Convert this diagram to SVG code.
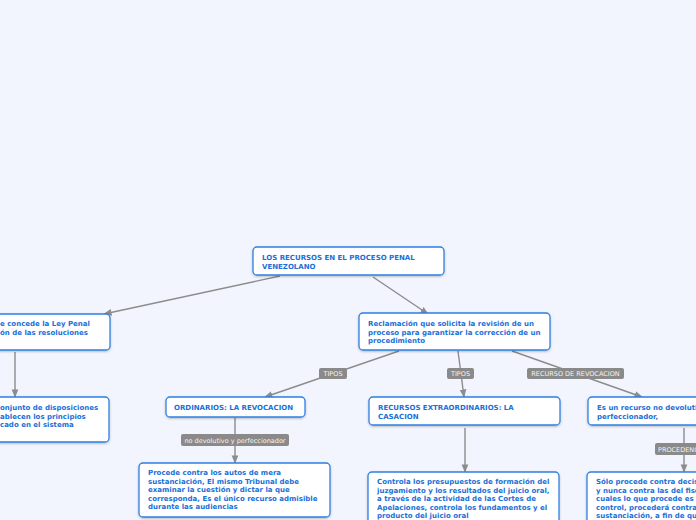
<svg xmlns="http://www.w3.org/2000/svg" width="696" height="520" viewBox="0 0 696 520">
<defs>
<marker id="ah" viewBox="0 0 10 10" refX="9" refY="5" markerWidth="6" markerHeight="6" orient="auto"><path d="M0,1 L10,5 L0,9 z" fill="#8c8c8c"/></marker>
<filter id="sh" x="-10%" y="-20%" width="120%" height="150%"><feDropShadow dx="0" dy="1" stdDeviation="1" flood-color="#000" flood-opacity="0.25"/></filter>
</defs>
<style>
.n{fill:#fff;stroke:#2f80e4;stroke-width:1.3;filter:url(#sh)}
.t{font-family:"DejaVu Sans",Verdana,sans-serif;font-weight:bold;font-size:7px;fill:#1a6fd8}
.c{fill:none;stroke:#8c8c8c;stroke-width:1.4;marker-end:url(#ah)}
.lb{fill:#8a8a8a}
.lt{font-family:"DejaVu Sans",Verdana,sans-serif;font-size:6.5px;fill:#f4f4f4;text-anchor:middle}
</style>
<rect width="696" height="520" fill="#f2f5fd"/>
<g id="connectors">
<path class="c" d="M280,276 L104,314"/>
<path class="c" d="M373,277 L428,314"/>
<path class="c" d="M15,352 L15,397"/>
<path class="c" d="M399,351 L265,397"/>
<path class="c" d="M458,351 L464,397"/>
<path class="c" d="M512,351 L642,397"/>
<path class="c" d="M235,418 L235,463"/>
<path class="c" d="M465,428 L465,472"/>
<path class="c" d="M684,428 L684,472"/>
<rect class="lb" x="319" y="368" width="28" height="11" rx="2"/><text class="lt" x="333" y="376">TIPOS</text>
<rect class="lb" x="447" y="368" width="27" height="11" rx="2"/><text class="lt" x="460.5" y="376">TIPOS</text>
<rect class="lb" x="527" y="368" width="97" height="11" rx="2"/><text class="lt" x="575.5" y="376">RECURSO DE REVOCACION</text>
<rect class="lb" x="181" y="434" width="108" height="12" rx="2"/><text class="lt" x="235" y="442.5">no devolutivo y perfeccionador</text>
<rect class="lb" x="655" y="443" width="50" height="12" rx="2"/><text class="lt" x="658" y="451.5" style="text-anchor:start">PROCEDENC</text>
</g>
<g id="root"><rect class="n" x="253" y="247" width="191" height="28" rx="4"/><text class="t" x="262" y="260">LOS RECURSOS EN EL PROCESO PENAL</text><text class="t" x="262" y="268.5">VENEZOLANO</text></g>
<g id="left1"><rect class="n" x="-90" y="314" width="200" height="36" rx="4"/><text class="t" x="0" y="326">e concede la Ley Penal</text><text class="t" x="0" y="334.5">ón de las resoluciones</text></g>
<g id="left2"><rect class="n" x="-90" y="397" width="199" height="45" rx="4"/><text class="t" x="0" y="410">onjunto de disposiciones</text><text class="t" x="0" y="418.5">ablecen los principios</text><text class="t" x="0" y="427">cado en el sistema</text></g>
<g id="reclamacion"><rect class="n" x="359" y="313" width="191" height="37" rx="4"/><text class="t" x="368" y="326">Reclamación que solicita la revisión de un</text><text class="t" x="368" y="334.5">proceso para garantizar la corrección de un</text><text class="t" x="368" y="343">procedimiento</text></g>
<g id="ordinarios"><rect class="n" x="166" y="397" width="139" height="20" rx="4"/><text class="t" x="174" y="410">ORDINARIOS: LA REVOCACION</text></g>
<g id="extraordinarios"><rect class="n" x="369" y="397" width="191" height="28" rx="4"/><text class="t" x="378" y="410">RECURSOS EXTRAORDINARIOS: LA</text><text class="t" x="378" y="418.5">CASACION</text></g>
<g id="esun"><rect class="n" x="588" y="397" width="140" height="28" rx="4"/><text class="t" x="597" y="410">Es un recurso no devoluti</text><text class="t" x="597" y="418.5">perfeccionador,</text></g>
<g id="procede"><rect class="n" x="139" y="463" width="191" height="54" rx="4"/><text class="t" x="148" y="475">Procede contra los autos de mera</text><text class="t" x="148" y="483.5">sustanciación, El mismo Tribunal debe</text><text class="t" x="148" y="492">examinar la cuestión y dictar la que</text><text class="t" x="148" y="500.5">corresponda, Es el único recurso admisible</text><text class="t" x="148" y="509">durante las audiencias</text></g>
<g id="controla"><rect class="n" x="368" y="472" width="191" height="60" rx="4"/><text class="t" x="377" y="484">Controla los presupuestos de formación del</text><text class="t" x="377" y="492.5">juzgamiento y los resultados del juicio oral,</text><text class="t" x="377" y="501">a través de la actividad de las Cortes de</text><text class="t" x="377" y="509.5">Apelaciones, controla los fundamentos y el</text><text class="t" x="377" y="518">producto del juicio oral</text></g>
<g id="solo"><rect class="n" x="587" y="472" width="191" height="60" rx="4"/><text class="t" x="596" y="484">Sólo procede contra decis</text><text class="t" x="596" y="492.5">y nunca contra las del fisc</text><text class="t" x="596" y="501">cuales lo que procede es e</text><text class="t" x="596" y="509.5">control, procederá contra</text><text class="t" x="596" y="518">sustanciación, a fin de qu</text></g>
</svg>
